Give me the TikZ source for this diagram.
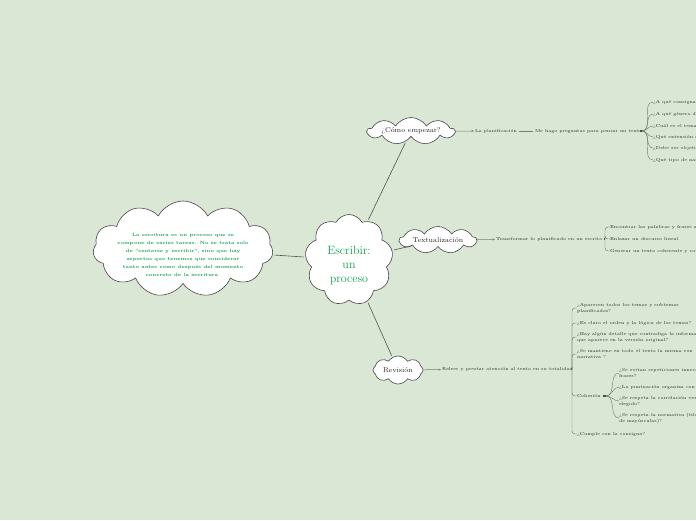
\documentclass[tikz,border=0pt]{standalone}
\usepackage{tikz}
\usetikzlibrary{arrows.meta, positioning, shapes.symbols, calc}
\definecolor{bgc}{RGB}{219,231,213}
\definecolor{txg}{RGB}{18,160,80}
\definecolor{lnc}{RGB}{80,84,80}
\definecolor{brc}{RGB}{118,126,116}
\definecolor{itc}{RGB}{40,40,40}

\begin{document}
\begin{tikzpicture}[x=1pt, y=-1pt,
    every node/.style={inner sep=0pt, outer sep=0pt},
    cl/.style={cloud, draw=black!72, line width=0.6pt, fill=white, cloud ignores aspect, cloud puffs=9, cloud puff arc=115},
    tl/.style={font=\fontsize{7}{8}\selectfont, text=black!85},
    it/.style={font=\fontsize{4.4}{6}\selectfont, text=itc, align=left, anchor=west},
    ln/.style={draw=lnc, line width=0.6pt, shorten <=2pt, shorten >=2pt},
    a/.style={draw=brc, line width=0.5pt, shorten >=1pt, -{Stealth[length=2.5pt, width=2pt]}},
    sg/.style={draw=brc, line width=0.5pt, shorten <=2pt, shorten >=2pt},
    bar/.style={draw=black!70, line width=1.3pt, shorten <=2pt},
    fan/.style={draw=brc, line width=0.45pt},
    hk/.style={draw=brc, line width=0.45pt, rounded corners=3pt}
]
\path[use as bounding box, fill=bgc] (0,0) rectangle (696,520);

% central idea and its note
\node[cl, cloud puffs=11, cloud puff arc=125, minimum width=180pt, minimum height=96pt] (intro) at (183,249) {};
\node[font=\bfseries\fontsize{4.6}{8}\selectfont, text=txg, align=center] (introtxt) at (183,255)
  {La escritura es un proceso que se\\ compone de varias tareas. No se trata solo\\ de "sentarse y escribir", sino que hay\\ aspectos que tenemos que considerar\\ tanto antes como después del momento\\ concreto de la escritura.};
\node[cl, cloud puffs=9, cloud puff arc=125, minimum width=88pt, minimum height=91pt] (main) at (349,260) {};
\node[font=\fontsize{12}{14}\selectfont, text=txg, align=center] (maintxt) at (349,265) {Escribir:\\ un\\ proceso};

% main topics
\node[cl, minimum width=87pt, minimum height=27pt, label={[tl]center:¿Cómo empezar?}] (como) at (411,131) {};
\node[cl, minimum width=77pt, minimum height=27pt, label={[tl]center:Textualización}] (textu) at (438,240) {};
\node[cl, cloud puffs=8, minimum width=50pt, minimum height=28pt, label={[tl]center:Revisión}] (rev) at (398,370) {};

\draw[ln] (intro) -- (main);
\draw[ln] (main) -- (como);
\draw[ln] (main) -- (textu);
\draw[ln] (main) -- (rev);

% como empezar
\node[it] (plan) at (475,131) {La planificación};
\node[it] (preg) at (535,131) {Me hago preguntas para pensar mi texto};
\coordinate (jc) at (642,131);
\draw[a] (como) -- (plan);
\draw[sg] (plan) -- (preg);
\draw[bar] (preg.east) -- (jc);
\foreach \nm/\yy/\txt in {
  c1/102/{¿A qué consigna responde?},
  c2/114/{¿A qué género discursivo pertenece?},
  c3/126/{¿Cuál es el tema principal?},
  c4/137/{¿Qué extensión debe tener?},
  c5/148/{¿Debe ser objetivo o subjetivo?},
  c6/160/{¿Qué tipo de narrador tendrá?}}
  {\node[it] (\nm) at (653,\yy) {\txt};
   \draw[fan] (jc) to[out=0,in=180] (\nm.west);}

% textualizacion
\node[it] (trans) at (496,239) {Transformar lo planificado en un escrito};
\coordinate (jt) at (605,239);
\draw[a] (textu) -- (trans);
\draw[bar] (trans.east) -- (jt);
\foreach \nm/\yy/\txt in {
  t1/227/{Encontrar las palabras y frases adecuadas},
  t2/239/{Enlazar un discurso lineal},
  t3/251/{Generar un texto coherente y cohesionado}}
  {\node[it] (\nm) at (610,\yy) {\txt};
   \draw[hk] (jt) |- (\nm.west);}

% revision
\node[it] (rel) at (442,369) {Releer y prestar atención al texto en su totalidad};
\coordinate (jr) at (572,369);
\draw[a] (rev) -- (rel);
\draw[bar] (rel.east) -- (jr);
\foreach \nm/\yy/\txt in {
  r1/308/{¿Aparecen todos los temas y subtemas\\ planificados?},
  r2/323/{¿Es claro el orden y la lógica de los temas?},
  r3/337/{¿Hay algún detalle que contradiga la información\\ que aparece en la versión original?},
  r4/354/{¿Se mantiene en todo el texto la misma voz\\ narrativa ?},
  r5/396/{Cohesión},
  r6/434/{¿Cumple con la consigna?}}
  {\node[it] (\nm) at (577,\yy) {\txt};
   \draw[hk] (jr) |- (\nm.west);}

% cohesion
\coordinate (jh) at (606,396);
\draw[bar] (r5.east) -- (jh);
\foreach \nm/\yy/\txt in {
  h1/373/{¿Se evitan repeticiones innecesarias de palabras o\\ frases?},
  h2/387/{¿La puntuación organiza con claridad el texto?},
  h3/401/{¿Se respeta la correlación verbal del tiempo\\ elegido?},
  h4/418/{¿Se respeta la normativa (tildación, uso\\ de mayúsculas)?}}
  {\node[it] (\nm) at (619,\yy) {\txt};
   \draw[fan] (jh) to[out=0,in=180] (\nm.west);}
\end{tikzpicture}
\end{document}
